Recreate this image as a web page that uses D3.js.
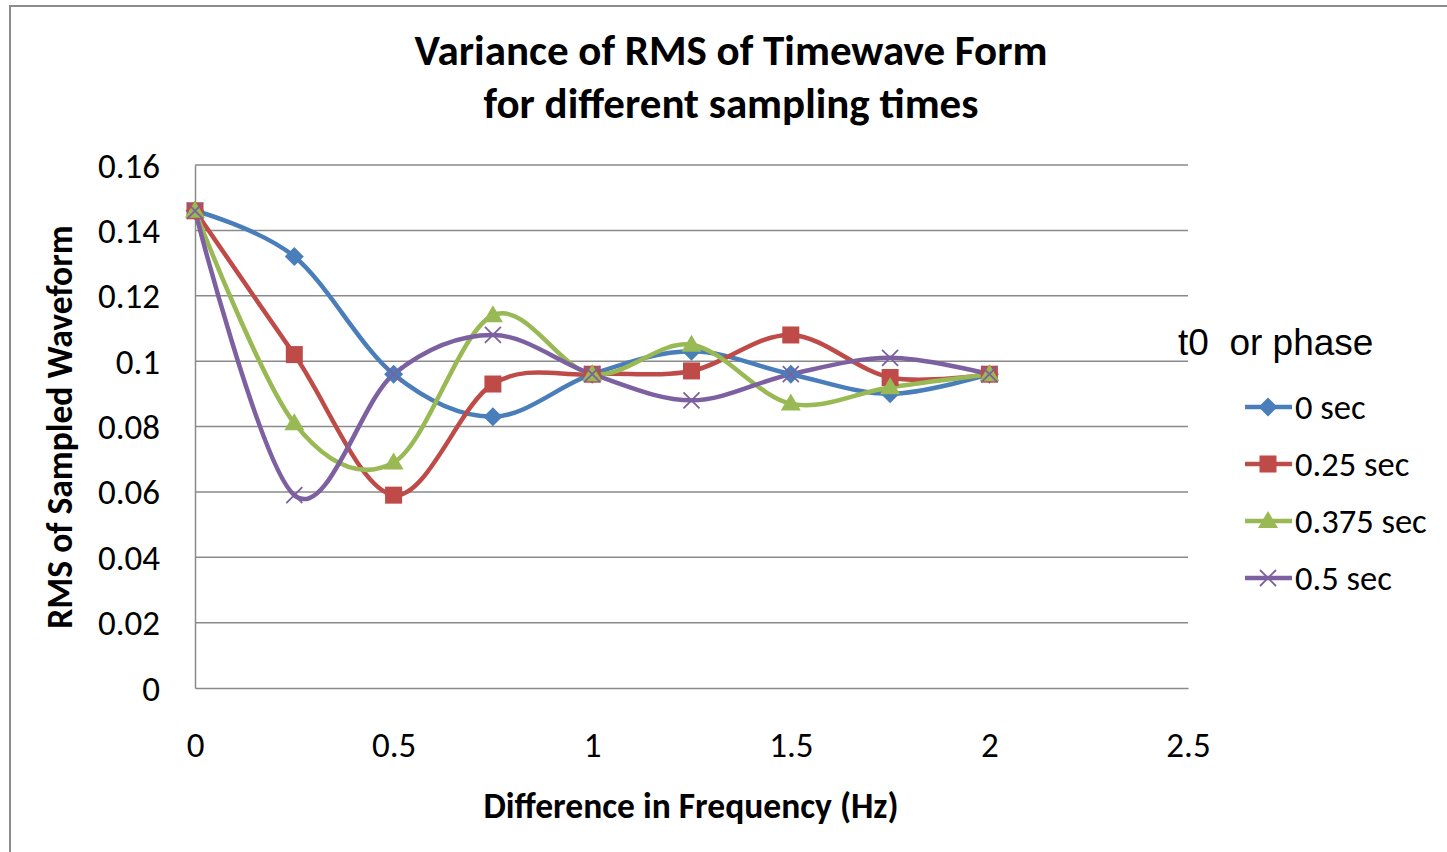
<!DOCTYPE html>
<html><head><meta charset="utf-8">
<script src="https://cdn.jsdelivr.net/npm/d3@7"></script>
<style>body{margin:0;background:#fff}svg{display:block}</style>
</head><body>
<svg id="c" width="1447" height="852"></svg>
<script>
const xValues = [0, 0.25, 0.5, 0.75, 1.0, 1.25, 1.5, 1.75, 2.0];
const seriesNames = ["0 sec", "0.25 sec", "0.375 sec", "0.5 sec"];
const s0 = [0.146, 0.132, 0.096, 0.083, 0.096, 0.103, 0.096, 0.090, 0.096];
const s025 = [0.146, 0.102, 0.059, 0.093, 0.096, 0.097, 0.108, 0.095, 0.096];
const s0375 = [0.146, 0.081, 0.069, 0.114, 0.096, 0.105, 0.087, 0.092, 0.096];
const s05 = [0.146, 0.059, 0.096, 0.108, 0.096, 0.088, 0.096, 0.101, 0.096];
const xTicks = [0, 0.5, 1, 1.5, 2, 2.5];
const yTicks = [0, 0.02, 0.04, 0.06, 0.08, 0.1, 0.12, 0.14, 0.16];
const colors = ["#4A7EBB", "#BE4B48", "#98B954", "#7D60A0"];
const markers = ["diamond", "square", "triangle", "x"];
const allSeries = [s0, s025, s0375, s05];

const svg = d3.select("#c");
const font = "Carlito, Calibri, 'Open Sans', sans-serif";

// chart frame
svg.append("path").attr("d", "M10,852 V6 H1447").attr("fill","none").attr("stroke","#8c8c8c").attr("stroke-width",2);

const x = d3.scaleLinear().domain([0, 2.5]).range([195, 1188]);
const y = d3.scaleLinear().domain([0, 0.16]).range([688, 165]);

// gridlines
svg.append("g").selectAll("line").data(yTicks.filter(d=>d>0)).join("line")
  .attr("x1", 195).attr("x2", 1188).attr("y1", d=>y(d)).attr("y2", d=>y(d))
  .attr("stroke", "#8a8a8a").attr("stroke-width", 1.5);

// axes
const yAxis = svg.append("g").attr("transform","translate(195,0)")
  .call(d3.axisLeft(y).tickValues(yTicks).tickSize(0).tickPadding(35).tickFormat(d=>d===0?"0":String(+d.toFixed(2))));
const xAxis = svg.append("g").attr("transform","translate(0,688)")
  .call(d3.axisBottom(x).tickValues(xTicks).tickSize(0).tickPadding(0).tickFormat(d=>String(d)));
[yAxis, xAxis].forEach(a=>{
  a.select(".domain").attr("stroke","#8a8a8a").attr("stroke-width",1.5);
  a.selectAll("text").attr("font-family", font).attr("font-size", 35).attr("fill","#000");
});
yAxis.selectAll("text").attr("dy", null).attr("dominant-baseline","central");
xAxis.selectAll("text").attr("dy", null).attr("y", 57).attr("dominant-baseline","central");

// lines
const line = d3.line().x((d,i)=>x(xValues[i])).y(d=>y(d)).curve(d3.curveCatmullRom.alpha(0));
allSeries.forEach((s,k)=>{
  svg.append("path").datum(s).attr("d", line).attr("fill","none")
    .attr("stroke", colors[k]).attr("stroke-width", 4.5).attr("stroke-linejoin","round");
});

function drawMarker(g, type, cx, cy, color){
  if(type==="diamond"){
    g.append("path").attr("d", `M${cx},${cy-9.5} L${cx+9.5},${cy} L${cx},${cy+9.5} L${cx-9.5},${cy} Z`).attr("fill", color);
  } else if(type==="square"){
    g.append("rect").attr("x", cx-8.5).attr("y", cy-8.5).attr("width",17).attr("height",17).attr("fill", color);
  } else if(type==="triangle"){
    g.append("path").attr("d", `M${cx},${cy-10} L${cx+10},${cy+7} L${cx-10},${cy+7} Z`).attr("fill", color);
  } else {
    g.append("path").attr("d", `M${cx-8},${cy-8} L${cx+8},${cy+8} M${cx-8},${cy+8} L${cx+8},${cy-8}`)
      .attr("stroke", color).attr("stroke-width", 1.8);
  }
}
allSeries.forEach((s,k)=>{
  const g = svg.append("g");
  s.forEach((v,i)=>drawMarker(g, markers[k], x(xValues[i]), y(v), colors[k]));
});

// title
const title = svg.append("text").attr("text-anchor","middle").attr("dominant-baseline","central")
  .attr("font-family", font).attr("font-weight","bold").attr("font-size", 43).attr("fill","#000");
title.append("tspan").attr("x",731).attr("y",50).text("Variance of RMS of Timewave Form");
title.append("tspan").attr("x",731).attr("y",103).text("for different sampling times");

// axis titles
svg.append("text").attr("x", 691).attr("y", 806).attr("text-anchor","middle").attr("dominant-baseline","central")
  .attr("font-family", font).attr("font-weight","bold").attr("font-size", 35.5).text("Difference in Frequency (Hz)");
svg.append("text").attr("transform","translate(60,427) rotate(-90)").attr("text-anchor","middle").attr("dominant-baseline","central")
  .attr("font-family", font).attr("font-weight","bold").attr("font-size", 35.5).text("RMS of Sampled Waveform");

// legend
svg.append("text").attr("x", 1178).attr("y", 342).attr("dominant-baseline","central").attr("font-family","'Liberation Sans', Arial, sans-serif")
  .attr("font-size", 37).style("white-space","pre").text("t0  or phase");
seriesNames.forEach((n,k)=>{
  const ly = 407 + k*57;
  const g = svg.append("g");
  g.append("line").attr("x1",1245).attr("x2",1292).attr("y1",ly).attr("y2",ly).attr("stroke",colors[k]).attr("stroke-width",4.5);
  drawMarker(g, markers[k], 1268, ly, colors[k]);
  g.append("text").attr("x",1295).attr("y",ly).attr("dominant-baseline","central").attr("font-family",font).attr("font-size",34.5).text(n);
});
</script>
</body></html>
